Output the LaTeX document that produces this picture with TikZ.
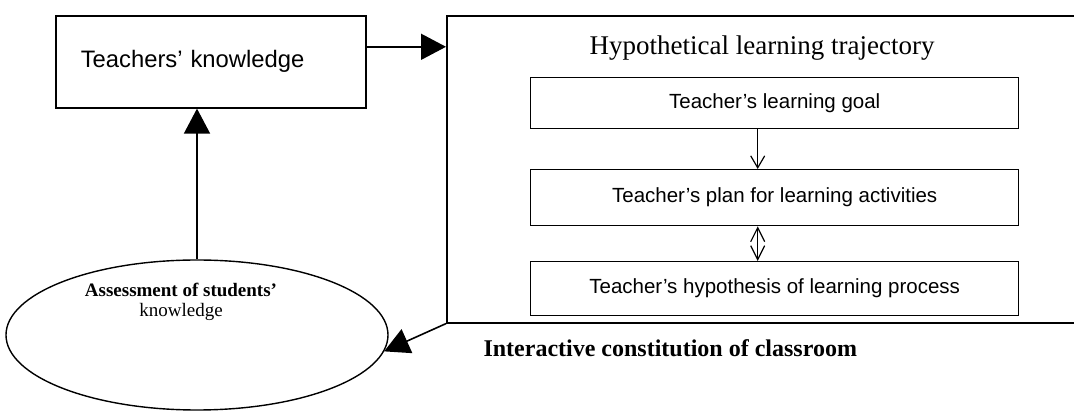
\documentclass[tikz,border=0pt]{standalone}
\usepackage{fontspec}
\setmainfont{Liberation Serif}
\newfontfamily\sansf{Liberation Sans}
\usetikzlibrary{arrows.meta,shapes.geometric}
\tikzset{
  box/.style={draw, line width=1.6pt, rectangle, inner sep=0pt},
  innerbox/.style={draw, line width=1.4pt, rectangle, inner sep=0pt, minimum width=488pt,
    font=\sansf\fontsize{20.5}{24}\selectfont},
  bigarrow/.style={line width=1.6pt, -{Triangle[length=25pt,width=26pt]}},
  openarrow/.style={line width=1.2pt, -{Straight Barb[length=12pt,width=14pt]}},
  dblarrow/.style={line width=1.2pt, {Straight Barb[length=14pt,width=14pt]}-{Straight Barb[length=14pt,width=14pt]}},
}
\begin{document}
\begin{tikzpicture}[x=1pt,y=-1pt]
\useasboundingbox (0,0) rectangle (1074,411);
\clip (0,0) rectangle (1074,411);
% Teachers' knowledge
\node[box, anchor=north west, minimum width=310pt, minimum height=92pt,
  text width=260pt, align=left, inner xsep=25pt,
  font=\sansf\fontsize{23.8}{28}\selectfont] (tk) at (55,15) {Teachers’ knowledge};
% Hypothetical learning trajectory (big box, open to the right)
\node[box, anchor=north west, minimum width=644pt, minimum height=307pt] (big) at (446,15) {};
\node[anchor=base, font=\fontsize{27}{32}\selectfont] (title) at (762,55) {Hypothetical learning trajectory};
\node[innerbox, anchor=north west, minimum height=51pt] (goal) at (530,77) {Teacher’s learning goal};
\node[innerbox, anchor=north west, minimum height=56pt] (plan) at (530,169) {Teacher’s plan for learning activities};
\node[innerbox, anchor=north west, minimum height=54pt] (hyp) at (530,261) {Teacher’s hypothesis of learning process};
% Assessment ellipse
\node[draw, ellipse, line width=1.4pt, minimum width=382pt, minimum height=150pt, inner sep=0pt] (as) at (197,335) {};
\node[align=center, font=\fontsize{19}{20}\selectfont] (astext) at (181,302)
  {\textbf{Assessment of students’}\\ knowledge};
% label
\node[anchor=base west, font=\bfseries\fontsize{24}{28}\selectfont] (ic) at (480,357) {Interactive constitution of classroom};
% connectors
\draw[bigarrow] ([yshift=15pt]tk.east) -- ([yshift=15pt]tk.east -| big.west);
\draw[bigarrow] (as.north) -- (as.north |- tk.south);
\draw[bigarrow] (big.south west) -- (as.-5);
\draw[openarrow] ([xshift=-17pt]goal.south) -- ([xshift=-17pt]plan.north);
\draw[dblarrow] ([xshift=-17pt]plan.south) -- ([xshift=-17pt]hyp.north);
\end{tikzpicture}
\end{document}
